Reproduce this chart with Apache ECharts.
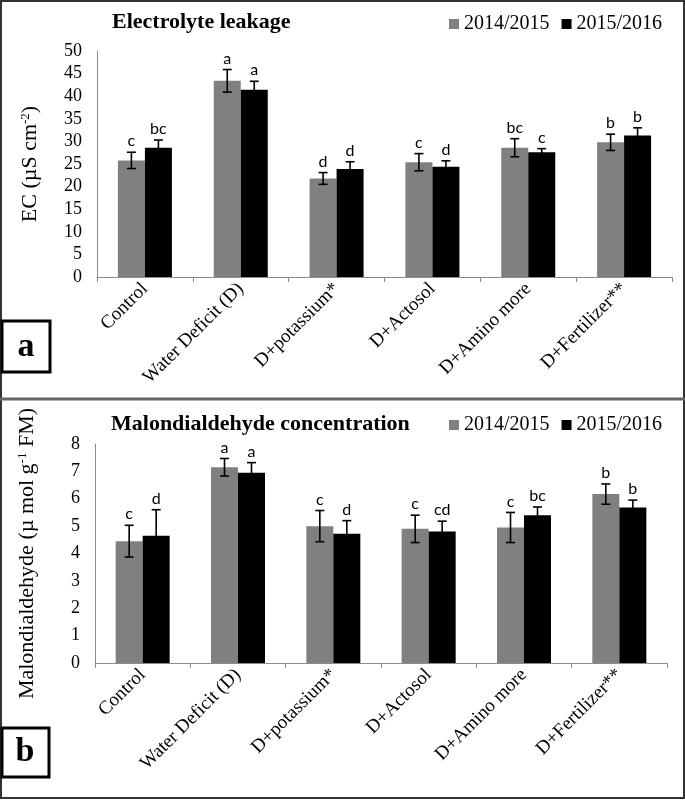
<!DOCTYPE html>
<html>
<head>
<meta charset="utf-8">
<script src="https://cdn.jsdelivr.net/npm/echarts@6/dist/echarts.min.js"></script>
<style>
html,body{margin:0;padding:0;background:#fff;}
#chart{width:685px;height:800px;}
</style>
</head>
<body>
<div id="chart"></div>
<script>
// ---- data ----
var categories = ['Control', 'Water Deficit (D)', 'D+potassium*', 'D+Actosol', 'D+Amino more', 'D+Fertilizer**'];
var seriesNames = ['2014/2015', '2015/2016'];

// Panel a: Electrolyte leakage (EC, µS cm-2)
var ec2014 = [25.8, 43.4, 21.8, 25.4, 28.6, 29.8];
var ec2015 = [28.6, 41.4, 23.9, 24.4, 27.6, 31.3];
var ecErr2014 = [1.8, 2.5, 1.3, 1.9, 2.0, 1.8];
var ecErr2015 = [1.7, 1.9, 1.6, 1.3, 0.8, 1.7];
var ecLetters2014 = ['c', 'a', 'd', 'c', 'bc', 'b'];
var ecLetters2015 = ['bc', 'a', 'd', 'd', 'c', 'b'];
var ecTicks = {min: 0, max: 50, interval: 5};

// Panel b: Malondialdehyde concentration
var mda2014 = [4.45, 7.15, 5.0, 4.9, 4.95, 6.17];
var mda2015 = [4.65, 6.95, 4.72, 4.8, 5.4, 5.68];
var mdaErr2014 = [0.58, 0.32, 0.57, 0.5, 0.55, 0.37];
var mdaErr2015 = [0.95, 0.37, 0.48, 0.38, 0.3, 0.27];
var mdaLetters2014 = ['c', 'a', 'c', 'c', 'c', 'b'];
var mdaLetters2015 = ['d', 'a', 'd', 'cd', 'bc', 'b'];
var mdaTicks = {min: 0, max: 8, interval: 1};

// ---- styles ----
var SERIF = '"Liberation Serif", "Times New Roman", serif';
var LETTER_FONT = 'Lato, "Open Sans", sans-serif';
var BAR_W = 27;
var GRAY = '#808080';
var BLACK = '#000000';
var AXIS_GRAY = '#8c8c8c';

function pairs(vals, errs) {
  return vals.map(function (v, i) { return [i, v, errs[i]]; });
}

function errRenderer(sign, letters) {
  return function (params, api) {
    var idx = api.value(0), v = api.value(1), e = api.value(2);
    var c = api.coord([idx, v]);
    var t = api.coord([idx, v + e]);
    var b = api.coord([idx, v - e]);
    var x = c[0] + sign * BAR_W / 2;
    var cap = 4.5;
    var st = {stroke: '#000', lineWidth: 1.6};
    return {
      type: 'group',
      children: [
        {type: 'line', shape: {x1: x, y1: t[1], x2: x, y2: b[1]}, style: st},
        {type: 'line', shape: {x1: x - cap, y1: t[1], x2: x + cap, y2: t[1]}, style: st},
        {type: 'line', shape: {x1: x - cap, y1: b[1], x2: x + cap, y2: b[1]}, style: st},
        {type: 'text', style: {
          text: letters[params.dataIndex], x: x, y: t[1] - 3,
          align: 'center', verticalAlign: 'bottom',
          font: '16px ' + LETTER_FONT, fill: '#000'
        }}
      ]
    };
  };
}

function xAxisFor(gridIndex) {
  return {
    type: 'category', gridIndex: gridIndex, data: categories,
    boundaryGap: true,
    axisLine: {show: true, lineStyle: {color: AXIS_GRAY, width: 1}},
    axisTick: {show: true, length: 5, alignWithLabel: false, lineStyle: {color: AXIS_GRAY}},
    axisLabel: {interval: 0, rotate: 45, fontFamily: SERIF, fontSize: 19, color: '#000', margin: 9}
  };
}

function yAxisFor(gridIndex, ticks, nameRich, gap) {
  return {
    type: 'value', gridIndex: gridIndex,
    min: ticks.min, max: ticks.max, interval: ticks.interval,
    axisLine: {show: true, lineStyle: {color: AXIS_GRAY, width: 1}},
    axisTick: {show: false},
    splitLine: {show: false},
    axisLabel: {fontFamily: SERIF, fontSize: 18, color: '#000', margin: 15},
    name: nameRich,
    nameLocation: 'middle',
    nameRotate: 90,
    nameGap: gap,
    nameTextStyle: {
      fontFamily: SERIF, fontSize: 22, color: '#000',
      rich: {
        a: {fontFamily: SERIF, fontSize: 22, color: '#000'},
        s: {fontFamily: SERIF, fontSize: 13, color: '#000', verticalAlign: 'top', padding: [0, 0, 10, 0]}
      }
    }
  };
}

var chart = echarts.init(document.getElementById('chart'), null, {renderer: 'canvas'});

var option = {
  backgroundColor: '#fff',
  animation: false,
  title: [
    {text: 'Electrolyte leakage', left: 107, top: 6,
     textStyle: {fontFamily: SERIF, fontSize: 22, fontWeight: 'bold', color: '#000'}},
    {text: 'Malondialdehyde concentration', left: 106, top: 408,
     textStyle: {fontFamily: SERIF, fontSize: 22, fontWeight: 'bold', color: '#000'}}
  ],
  legend: [
    {data: seriesNames, left: 444, top: 9, icon: 'rect', itemWidth: 10, itemHeight: 10, itemGap: 12,
     textStyle: {fontFamily: SERIF, fontSize: 20, color: '#000'}},
    {data: seriesNames, left: 444, top: 410, icon: 'rect', itemWidth: 10, itemHeight: 10, itemGap: 12,
     textStyle: {fontFamily: SERIF, fontSize: 20, color: '#000'}}
  ],
  grid: [
    {left: 97, top: 51, width: 575, height: 226, containLabel: false},
    {left: 95, top: 444, width: 572, height: 219, containLabel: false}
  ],
  xAxis: [xAxisFor(0), xAxisFor(1)],
  yAxis: [
    yAxisFor(0, ecTicks, '{a|EC (µS cm}{s|-2}{a|)}', 55),
    yAxisFor(1, mdaTicks, '{a|Malondialdehyde (µ mol g}{s|-1}{a| FM)}', 56)
  ],
  series: [
    {name: seriesNames[0], type: 'bar', xAxisIndex: 0, yAxisIndex: 0, data: ec2014,
     barWidth: BAR_W, barGap: '0%', itemStyle: {color: GRAY}},
    {name: seriesNames[1], type: 'bar', xAxisIndex: 0, yAxisIndex: 0, data: ec2015,
     barWidth: BAR_W, barGap: '0%', itemStyle: {color: BLACK}},
    {name: seriesNames[0], type: 'bar', xAxisIndex: 1, yAxisIndex: 1, data: mda2014,
     barWidth: BAR_W, barGap: '0%', itemStyle: {color: GRAY}},
    {name: seriesNames[1], type: 'bar', xAxisIndex: 1, yAxisIndex: 1, data: mda2015,
     barWidth: BAR_W, barGap: '0%', itemStyle: {color: BLACK}},
    {type: 'custom', xAxisIndex: 0, yAxisIndex: 0, data: pairs(ec2014, ecErr2014),
     renderItem: errRenderer(-1, ecLetters2014), clip: false, z: 5, encode: {x: 0, y: 1}},
    {type: 'custom', xAxisIndex: 0, yAxisIndex: 0, data: pairs(ec2015, ecErr2015),
     renderItem: errRenderer(1, ecLetters2015), clip: false, z: 5, encode: {x: 0, y: 1}},
    {type: 'custom', xAxisIndex: 1, yAxisIndex: 1, data: pairs(mda2014, mdaErr2014),
     renderItem: errRenderer(-1, mdaLetters2014), clip: false, z: 5, encode: {x: 0, y: 1}},
    {type: 'custom', xAxisIndex: 1, yAxisIndex: 1, data: pairs(mda2015, mdaErr2015),
     renderItem: errRenderer(1, mdaLetters2015), clip: false, z: 5, encode: {x: 0, y: 1}}
  ],
  graphic: [
    {type: 'rect', shape: {x: 1, y: 1, width: 683, height: 797}, style: {fill: null, stroke: '#333', lineWidth: 2}, z: 100},
    {type: 'line', shape: {x1: 0, y1: 399, x2: 685, y2: 399}, style: {stroke: '#666', lineWidth: 3}, z: 100},
    {type: 'rect', shape: {x: 2, y: 321, width: 48, height: 51}, style: {fill: '#fff', stroke: '#000', lineWidth: 3}, z: 100},
    {type: 'text', x: 26, y: 347, style: {text: 'a', font: 'bold 34px ' + SERIF, fill: '#000', align: 'center', verticalAlign: 'middle'}, z: 101},
    {type: 'rect', shape: {x: 2, y: 728, width: 47, height: 49}, style: {fill: '#fff', stroke: '#000', lineWidth: 3}, z: 100},
    {type: 'text', x: 25, y: 752, style: {text: 'b', font: 'bold 34px ' + SERIF, fill: '#000', align: 'center', verticalAlign: 'middle'}, z: 101}
  ]
};
chart.setOption(option);
</script>
</body>
</html>
